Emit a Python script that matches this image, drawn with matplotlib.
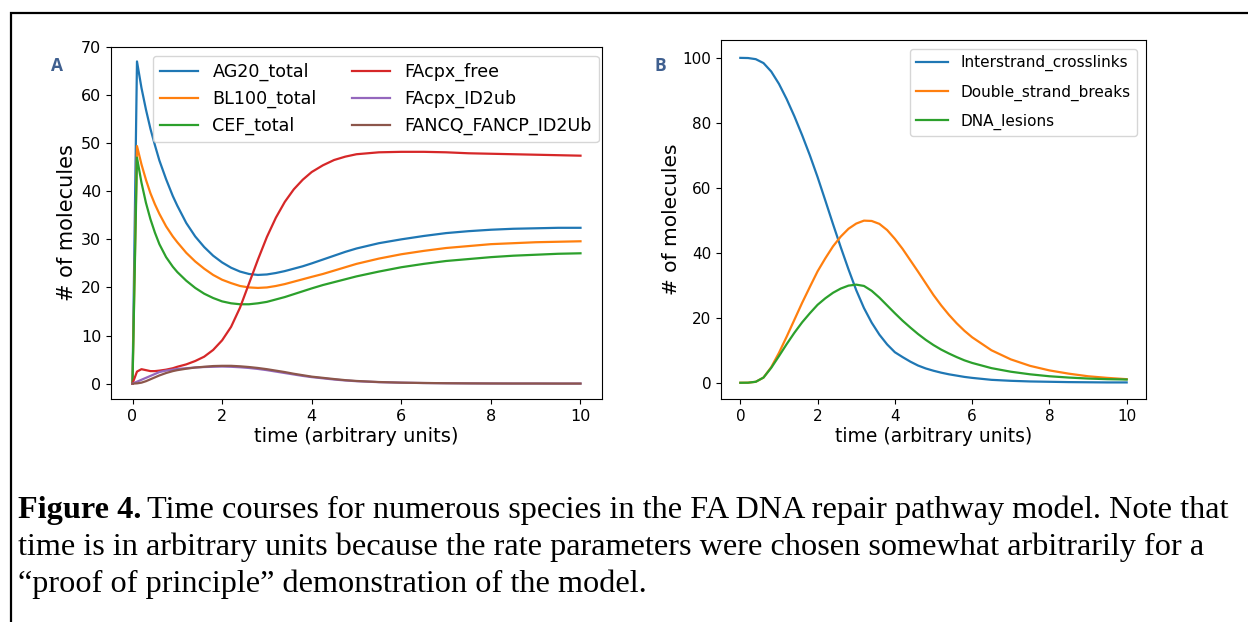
import matplotlib
matplotlib.use("Agg")
import matplotlib.pyplot as plt
from matplotlib.patches import Rectangle

# ---------------- Panel A data ----------------
t_a = [0, 0.1, 0.2, 0.3, 0.4, 0.5, 0.6, 0.75, 0.9, 1.0, 1.2, 1.4, 1.6, 1.8, 2.0,
       2.2, 2.4, 2.6, 2.8, 3.0, 3.2, 3.4, 3.6, 3.8, 4.0, 4.25, 4.5, 4.75, 5.0,
       5.5, 6.0, 6.5, 7.0, 7.5, 8.0, 8.5, 9.0, 9.5, 10.0]
ag20_total = [0, 67.0, 61.5, 57.0, 53.0, 49.6, 46.4, 42.5, 39.0, 37.0, 33.4, 30.6, 28.4,
              26.6, 25.2, 24.1, 23.3, 22.8, 22.6, 22.7, 23.0, 23.4, 23.9, 24.4, 25.0,
              25.8, 26.6, 27.4, 28.1, 29.2, 30.0, 30.7, 31.3, 31.7, 32.0, 32.2, 32.3,
              32.4, 32.4]
bl100_total = [0, 49.4, 45.6, 42.4, 39.6, 37.3, 35.3, 32.7, 30.6, 29.4, 27.2, 25.4, 23.9,
               22.6, 21.6, 20.9, 20.3, 20.0, 19.9, 20.0, 20.3, 20.7, 21.2, 21.7, 22.2,
               22.8, 23.5, 24.2, 24.9, 26.0, 26.9, 27.6, 28.2, 28.6, 29.0, 29.2, 29.4,
               29.5, 29.6]
cef_total = [0, 47.0, 41.8, 37.6, 34.2, 31.4, 29.0, 26.3, 24.3, 23.2, 21.4, 19.9, 18.7,
             17.8, 17.1, 16.7, 16.5, 16.5, 16.7, 17.0, 17.5, 18.0, 18.6, 19.2, 19.8,
             20.5, 21.1, 21.7, 22.3, 23.3, 24.2, 24.9, 25.5, 25.9, 26.3, 26.6, 26.8,
             27.0, 27.1]
facpx_free = [0, 2.5, 3.0, 2.8, 2.6, 2.6, 2.7, 2.9, 3.2, 3.5, 4.0, 4.7, 5.6, 7.0, 9.0,
              11.8, 15.8, 20.8, 25.8, 30.5, 34.5, 37.8, 40.4, 42.4, 44.0, 45.4, 46.5,
              47.2, 47.7, 48.1, 48.2, 48.2, 48.1, 47.9, 47.8, 47.7, 47.6, 47.5, 47.4]
facpx_id2ub = [0, 0.4, 0.8, 1.2, 1.6, 2.0, 2.4, 2.7, 2.9, 3.05, 3.2, 3.35, 3.45, 3.5,
               3.55, 3.5, 3.4, 3.25, 3.05, 2.8, 2.5, 2.2, 1.9, 1.6, 1.35, 1.1, 0.85,
               0.65, 0.5, 0.3, 0.2, 0.12, 0.08, 0.05, 0.03, 0.02, 0.02, 0.01, 0.01]
fancq_fancp_id2ub = [0, 0.05, 0.2, 0.5, 0.9, 1.3, 1.7, 2.2, 2.6, 2.8, 3.1, 3.35, 3.5,
                     3.65, 3.7, 3.7, 3.6, 3.45, 3.25, 3.0, 2.7, 2.4, 2.05, 1.75, 1.45,
                     1.2, 0.95, 0.72, 0.55, 0.33, 0.2, 0.13, 0.08, 0.05, 0.03, 0.02,
                     0.02, 0.01, 0.01]
labels_a = ["AG20_total", "BL100_total", "CEF_total",
            "FAcpx_free", "FAcpx_ID2ub", "FANCQ_FANCP_ID2Ub"]
colors_a = ["#1f77b4", "#ff7f0e", "#2ca02c", "#d62728", "#9467bd", "#8c564b"]

# ---------------- Panel B data ----------------
t_b = [0, 0.2, 0.4, 0.6, 0.8, 1.0, 1.2, 1.4, 1.6, 1.8, 2.0, 2.2, 2.4, 2.6, 2.8, 3.0,
       3.2, 3.4, 3.6, 3.8, 4.0, 4.2, 4.4, 4.6, 4.8, 5.0, 5.2, 5.4, 5.6, 5.8, 6.0,
       6.5, 7.0, 7.5, 8.0, 8.5, 9.0, 9.5, 10.0]
interstrand = [100, 99.95, 99.6, 98.4, 95.8, 92.0, 87.3, 82.0, 76.2, 70.0, 63.3, 56.1,
               48.8, 41.7, 34.9, 28.5, 23.0, 18.5, 14.8, 11.8, 9.4, 7.9, 6.5, 5.3, 4.4,
               3.7, 3.1, 2.6, 2.2, 1.8, 1.5, 0.9, 0.6, 0.4, 0.3, 0.2, 0.15, 0.1, 0.1]
double_strand = [0, 0.02, 0.3, 1.6, 4.8, 9.2, 14.2, 19.4, 24.6, 29.5, 34.3, 38.3, 42.0,
                 45.0, 47.4, 49.0, 49.9, 49.8, 48.9, 47.0, 44.3, 41.2, 37.7, 34.2, 30.6,
                 27.0, 23.8, 20.9, 18.3, 16.0, 14.0, 10.0, 7.2, 5.2, 3.8, 2.8, 2.0, 1.5,
                 1.1]
dna_lesions = [0, 0.02, 0.3, 1.6, 4.6, 8.2, 11.9, 15.4, 18.6, 21.4, 24.0, 26.0, 27.7,
               29.0, 29.9, 30.2, 29.8, 28.3, 26.2, 23.8, 21.4, 19.1, 17.0, 15.0, 13.2,
               11.6, 10.2, 9.0, 7.9, 6.9, 6.1, 4.5, 3.4, 2.6, 2.0, 1.6, 1.3, 1.1, 1.0]
labels_b = ["Interstrand_crosslinks", "Double_strand_breaks", "DNA_lesions"]
colors_b = ["#1f77b4", "#ff7f0e", "#2ca02c"]

xticks = [0, 2, 4, 6, 8, 10]
yticks_a = [0, 10, 20, 30, 40, 50, 60, 70]
yticks_b = [0, 20, 40, 60, 80, 100]
xlabel = "time (arbitrary units)"
ylabel = "# of molecules"
caption_bold = "Figure 4."
caption_lines = [
    "Time courses for numerous species in the FA DNA repair pathway model. Note that",
    "time is in arbitrary units because the rate parameters were chosen somewhat arbitrarily for a",
    "\u201cproof of principle\u201d demonstration of the model.",
]

W, H = 1248, 622
fig = plt.figure(figsize=(W / 100, H / 100), dpi=100)
fig.patch.set_facecolor("white")


def fx(px):
    return px / W


def fy(py):
    return 1 - py / H


# outer border (cropped on right/bottom in the reference)
fig.patches.append(Rectangle((fx(11), -0.5), 2.0, fy(13) + 0.5,
                             transform=fig.transFigure, fill=False,
                             edgecolor="black", linewidth=1.6))

# Panel A
axA = fig.add_axes([fx(111), fy(399), fx(602) - fx(111), fy(47) - fy(399)])
series_a = [ag20_total, bl100_total, cef_total, facpx_free, facpx_id2ub, fancq_fancp_id2ub]
for ys, lab, col in zip(series_a, labels_a, colors_a):
    axA.plot(t_a, ys, color=col, label=lab, linewidth=1.6, solid_joinstyle="round")
axA.set_xlim(-0.48, 10.48)
axA.set_ylim(-3.2, 70)
axA.set_xticks(xticks)
axA.set_yticks(yticks_a)
axA.tick_params(labelsize=11.5)
axA.set_xlabel(xlabel, fontsize=14, labelpad=2)
axA.set_ylabel(ylabel, fontsize=15, labelpad=3)
axA.legend(loc="upper right", ncol=2, fontsize=12.6, frameon=True,
           bbox_to_anchor=(1.0, 0.985), borderaxespad=0.2, columnspacing=2.0,
           handlelength=2.2, labelspacing=0.5)

# Panel B
axB = fig.add_axes([fx(721), fy(399), fx(1146) - fx(721), fy(40) - fy(399)])
series_b = [interstrand, double_strand, dna_lesions]
for ys, lab, col in zip(series_b, labels_b, colors_b):
    axB.plot(t_b, ys, color=col, label=lab, linewidth=1.6, solid_joinstyle="round")
axB.set_xlim(-0.5, 10.5)
axB.set_ylim(-5, 105.5)
axB.set_xticks(xticks)
axB.set_yticks(yticks_b)
axB.tick_params(labelsize=11)
axB.set_xlabel(xlabel, fontsize=13.5, labelpad=2)
axB.set_ylabel(ylabel, fontsize=14.5, labelpad=1)
axB.legend(loc="upper right", fontsize=11, frameon=True, borderaxespad=0.6,
           handlelength=2.1, labelspacing=0.85)

# panel letters
fig.text(fx(57), fy(66), "A", fontsize=12.5, fontweight="bold", color="#3F5F8F",
         family="Open Sans", ha="center", va="center")
fig.text(fx(660), fy(66), "B", fontsize=12.5, fontweight="bold", color="#3F5F8F",
         family="Open Sans", ha="center", va="center")

# caption
cap_fs = 23.2
cap_x = fx(18)
baselines = [fy(518), fy(555), fy(592)]
t1 = fig.text(cap_x, baselines[0], caption_bold, fontsize=cap_fs, fontweight="bold",
              family="Liberation Serif", va="baseline", ha="left")
fig.canvas.draw()
r = fig.canvas.get_renderer()
bb = t1.get_window_extent(renderer=r)
fig.text(bb.x1 / W + 6 / W, baselines[0], caption_lines[0],
         fontsize=cap_fs, family="Liberation Serif", va="baseline", ha="left")
fig.text(cap_x, baselines[1], caption_lines[1],
         fontsize=cap_fs, family="Liberation Serif", va="baseline", ha="left")
fig.text(cap_x, baselines[2], caption_lines[2],
         fontsize=cap_fs, family="Liberation Serif", va="baseline", ha="left")

fig.savefig("out.png", dpi=100)
